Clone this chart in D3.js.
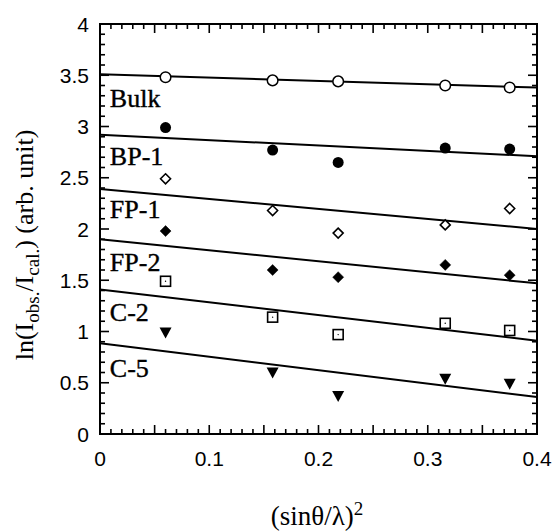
<!DOCTYPE html>
<html>
<head>
<meta charset="utf-8">
<script src="https://cdn.jsdelivr.net/npm/d3@7"></script>
<style>
  html, body { margin: 0; padding: 0; background: #fff; }
  svg { display: block; }
</style>
</head>
<body>
<svg id="chart" width="553" height="532"></svg>
<script>
// ---- data ----
const xValues = [0.06, 0.158, 0.218, 0.316, 0.375];
const seriesNames = ["Bulk", "BP-1", "FP-1", "FP-2", "C-2", "C-5"];
const bulk = [3.48, 3.45, 3.44, 3.40, 3.38];
const bp1  = [2.99, 2.77, 2.65, 2.79, 2.78];
const fp1  = [2.49, 2.18, 1.96, 2.04, 2.20];
const fp2  = [1.98, 1.60, 1.53, 1.65, 1.55];
const c2   = [1.49, 1.14, 0.97, 1.08, 1.01];
const c5   = [0.99, 0.60, 0.37, 0.54, 0.49];
// fitted lines: value at x = 0 and at x = 0.4
const fitStart = [3.51, 2.92, 2.39, 1.90, 1.41, 0.885];
const fitEnd   = [3.38, 2.71, 2.00, 1.47, 0.91, 0.36];
const fitX     = [0, 0.4];
// label anchor (data coords)
const labelX = 0.009;
const labelY = [3.19, 2.62, 2.11, 1.59, 1.10, 0.555];
const markers = ["openCircle", "filledCircle", "openDiamond", "filledDiamond", "openSquare", "filledTriDown"];
const xTicks = [0, 0.1, 0.2, 0.3, 0.4];
const yTicks = [0, 0.5, 1, 1.5, 2, 2.5, 3, 3.5, 4];

const allSeries = [bulk, bp1, fp1, fp2, c2, c5];

// ---- layout ----
const svg = d3.select("#chart");
const L = 100, R = 537, T = 24, B = 434;
const x = d3.scaleLinear().domain([0, 0.4]).range([L, R]);
const y = d3.scaleLinear().domain([0, 4]).range([B, T]);

const g = svg.append("g");

// frame
g.append("rect").attr("x", L).attr("y", T).attr("width", R - L).attr("height", B - T)
  .attr("fill", "none").attr("stroke", "#000").attr("stroke-width", 2);

// ticks (inward, all four sides)
const xMinor = d3.range(0, 41).map(i => i / 100);
const yMinor = d3.range(0, 41).map(i => i / 10);
const isMajX = v => Math.abs(v * 20 - Math.round(v * 20)) < 1e-6;
const isMajY = v => Math.abs(v * 2 - Math.round(v * 2)) < 1e-6;
const tickG = g.append("g").attr("stroke", "#000").attr("stroke-width", 1.6);
xMinor.forEach(v => {
  const len = isMajX(v) ? 9 : 5;
  tickG.append("line").attr("x1", x(v)).attr("x2", x(v)).attr("y1", B).attr("y2", B - len);
  tickG.append("line").attr("x1", x(v)).attr("x2", x(v)).attr("y1", T).attr("y2", T + len);
});
yMinor.forEach(v => {
  const len = isMajY(v) ? 9 : 5;
  tickG.append("line").attr("y1", y(v)).attr("y2", y(v)).attr("x1", L).attr("x2", L + len);
  tickG.append("line").attr("y1", y(v)).attr("y2", y(v)).attr("x1", R).attr("x2", R - len);
});

// tick labels
const tickFont = "Liberation Sans, Arial, sans-serif";
g.append("g").selectAll("text").data(xTicks).join("text")
  .attr("x", d => x(d)).attr("y", 466)
  .attr("text-anchor", "middle")
  .attr("font-family", tickFont).attr("font-size", 21)
  .text(d => d3.format("")(d));
g.append("g").selectAll("text").data(yTicks).join("text")
  .attr("x", 89).attr("y", d => y(d) + 7.5)
  .attr("text-anchor", "end")
  .attr("font-family", tickFont).attr("font-size", 21)
  .text(d => String(d));

// fit lines
const line = d3.line().x(d => x(d[0])).y(d => y(d[1]));
allSeries.forEach((s, i) => {
  g.append("path")
    .attr("d", line([[fitX[0], fitStart[i]], [fitX[1], fitEnd[i]]]))
    .attr("fill", "none").attr("stroke", "#000").attr("stroke-width", 2);
});

// markers
function drawMarker(sel, type, cx, cy) {
  if (type === "openCircle") {
    sel.append("circle").attr("cx", cx).attr("cy", cy).attr("r", 5.3)
      .attr("fill", "#fff").attr("stroke", "#000").attr("stroke-width", 1.5);
  } else if (type === "filledCircle") {
    sel.append("circle").attr("cx", cx).attr("cy", cy).attr("r", 5.5).attr("fill", "#000");
  } else if (type === "openDiamond" || type === "filledDiamond") {
    const open = type === "openDiamond";
    const r = open ? 5 : 5.5;
    sel.append("path")
      .attr("d", `M${cx},${cy - r}L${cx + r},${cy}L${cx},${cy + r}L${cx - r},${cy}Z`)
      .attr("fill", open ? "#fff" : "#000").attr("stroke", "#000").attr("stroke-width", open ? 1.6 : 0.5);
  } else if (type === "openSquare") {
    sel.append("rect").attr("x", cx - 5).attr("y", cy - 5).attr("width", 10).attr("height", 10)
      .attr("fill", "#fff").attr("stroke", "#000").attr("stroke-width", 1.6);
    sel.append("circle").attr("cx", cx).attr("cy", cy).attr("r", 0.7).attr("fill", "#000");
  } else if (type === "filledTriDown") {
    sel.append("path")
      .attr("d", `M${cx - 6},${cy - 5}L${cx + 6},${cy - 5}L${cx},${cy + 6}Z`)
      .attr("fill", "#000");
  }
}
allSeries.forEach((s, i) => {
  const mg = g.append("g");
  s.forEach((v, j) => drawMarker(mg, markers[i], x(xValues[j]), y(v)));
});

// series labels
const serif = "Liberation Serif, Times New Roman, serif";
g.append("g").selectAll("text").data(seriesNames).join("text")
  .attr("x", x(labelX)).attr("y", (d, i) => y(labelY[i]))
  .attr("font-family", serif).attr("font-size", 26)
  .attr("stroke", "#000").attr("stroke-width", 0.4)
  .text(d => d);

// x axis title
const xt = svg.append("text")
  .attr("x", 317).attr("y", 525).attr("text-anchor", "middle")
  .attr("font-family", serif).attr("font-size", 27);
xt.append("tspan").text("(sinθ/λ)");
xt.append("tspan").attr("dy", -10).attr("font-size", 19).text("2");

// y axis title
const yt = svg.append("text")
  .attr("transform", "translate(33,245) rotate(-90)")
  .attr("text-anchor", "middle")
  .attr("font-family", serif).attr("font-size", 26);
yt.append("tspan").text("ln(I");
yt.append("tspan").attr("dy", 6).attr("font-size", 19).text("obs.");
yt.append("tspan").attr("dy", -6).text("/I");
yt.append("tspan").attr("dy", 6).attr("font-size", 19).text("cal.");
yt.append("tspan").attr("dy", -6).text(") (arb. unit)");
</script>
</body>
</html>
